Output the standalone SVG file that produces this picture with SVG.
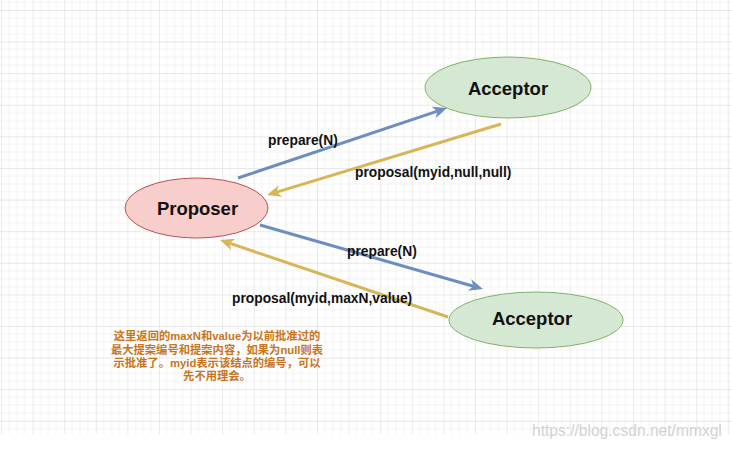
<svg xmlns="http://www.w3.org/2000/svg" width="732" height="449" viewBox="0 0 732 449">
<defs>
<pattern id="grid" x="1" y="10" width="31.6" height="31.6" patternUnits="userSpaceOnUse">
<path d="M7.9,0V31.6M15.8,0V31.6M23.7,0V31.6M0,7.9H31.6M0,15.8H31.6M0,23.7H31.6" stroke="#f4f4f4" stroke-width="1" fill="none"/>
<path d="M0,0V31.6M0,0H31.6" stroke="#e8e8e8" stroke-width="1.8" fill="none"/>
</pattern>
<marker id="ab" markerUnits="userSpaceOnUse" markerWidth="16" markerHeight="14" refX="4" refY="7" orient="auto" viewBox="0 0 16 14">
<path d="M0,1 L14,7 L0,13 L4,7 z" fill="#6c8ebf"/>
</marker>
<marker id="ay" markerUnits="userSpaceOnUse" markerWidth="16" markerHeight="14" refX="4" refY="7" orient="auto" viewBox="0 0 16 14">
<path d="M0,1 L14,7 L0,13 L4,7 z" fill="#d6b656"/>
</marker>
</defs>
<style>
.node-text{font-family:"Liberation Sans",Arial,sans-serif;font-weight:bold;fill:#111;text-anchor:middle;dominant-baseline:central}
.lbl{font-family:"Liberation Sans",Arial,sans-serif;font-weight:bold;font-size:13.8px;fill:#111}
.blue{stroke:#6c8ebf;stroke-width:3;fill:none;marker-end:url(#ab)}
.yel{stroke:#d6b656;stroke-width:3;fill:none;marker-end:url(#ay)}
.note{font-family:"Liberation Sans","Noto Sans CJK SC",sans-serif;font-weight:bold;font-size:11.3px;fill:#c8741a;text-anchor:middle}
</style>
<rect x="0" y="0" width="732" height="449" fill="#ffffff"/>
<rect x="0" y="0" width="732" height="434" fill="url(#grid)"/>
<g id="connectors">
<line class="blue" x1="238" y1="178" x2="437.5" y2="111.2"/>
<line class="yel" x1="501" y1="124" x2="276.6" y2="192.1"/>
<line class="blue" x1="260" y1="225" x2="473.4" y2="286.2"/>
<line class="yel" x1="448" y1="317" x2="229.5" y2="243.2"/>
<text class="lbl" x="268" y="145">prepare(N)</text>
<text class="lbl" x="355" y="177">proposal(myid,null,null)</text>
<text class="lbl" x="347" y="256">prepare(N)</text>
<text class="lbl" x="232" y="303">proposal(myid,maxN,value)</text>
</g>
<g id="acceptor-top">
<ellipse cx="508" cy="87.5" rx="83" ry="30.5" fill="#d5e8d4" stroke="#82b366" stroke-width="1"/>
<text class="node-text" x="508" y="88" font-size="18.5">Acceptor</text>
</g>
<g id="proposer">
<ellipse cx="196.5" cy="208" rx="71.5" ry="30" fill="#f8cecc" stroke="#b85450" stroke-width="1"/>
<text class="node-text" x="197.5" y="208" font-size="18.5">Proposer</text>
</g>
<g id="acceptor-bottom">
<ellipse cx="536" cy="320" rx="87" ry="28" fill="#d5e8d4" stroke="#82b366" stroke-width="1"/>
<text class="node-text" x="532" y="318" font-size="18.5">Acceptor</text>
</g>
<g id="note">
<text class="note" x="217" y="340">这里返回的maxN和value为以前批准过的</text>
<text class="note" x="217" y="353.5">最大提案编号和提案内容，如果为null则表</text>
<text class="note" x="217" y="367">示批准了。myid表示该结点的编号，可以</text>
<text class="note" x="217" y="380">先不用理会。</text>
</g>
<text x="532" y="436" font-family="'Liberation Sans',Arial,sans-serif" font-size="15.6" fill="#d2d2d2">https://blog.csdn.net/mmxgl</text>
</svg>
